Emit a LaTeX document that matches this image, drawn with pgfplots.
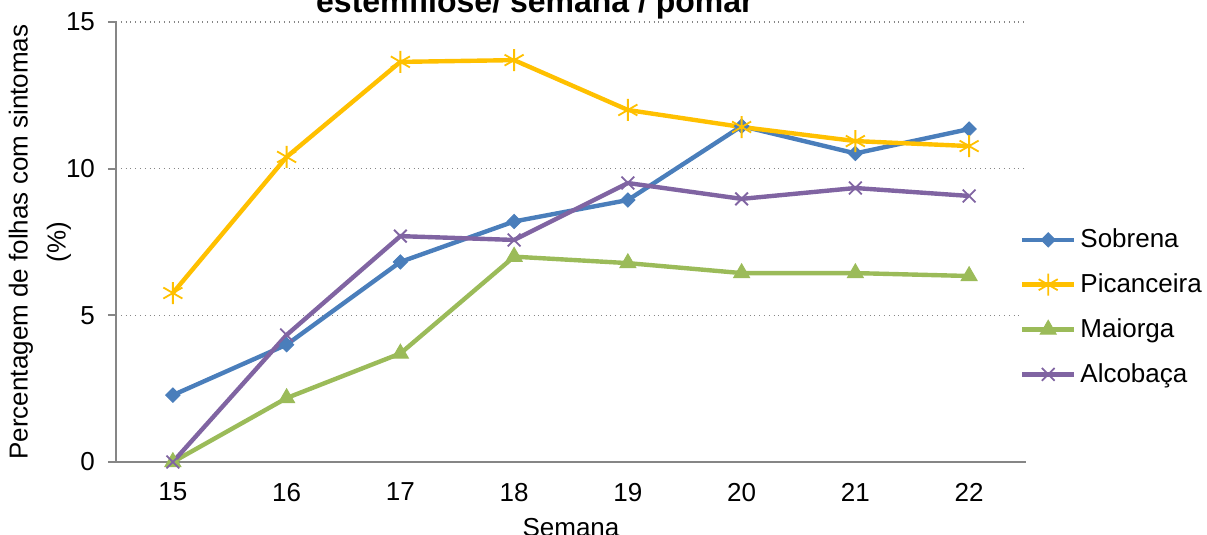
\documentclass[border=0pt]{standalone}
\usepackage{pgfplots}
\pgfplotsset{compat=1.18}
\usepackage{fontspec}
\setmainfont{Liberation Sans}
\definecolor{cSob}{HTML}{4A7EBB}
\definecolor{cPic}{HTML}{FFC000}
\definecolor{cMai}{HTML}{9BBB59}
\definecolor{cAlc}{HTML}{8064A2}
\definecolor{axgray}{HTML}{868686}
\begin{document}
\begin{tikzpicture}
\useasboundingbox (-58pt,-36.5pt) rectangle (545.5pt,231pt);
\begin{axis}[
  scale only axis,
  width=455pt, height=220pt,
  xmin=14.5, xmax=22.5, ymin=0, ymax=15,
  xtick={15,16,17,18,19,20,21,22},
  ytick={0,5,10,15},
  axis x line*=bottom, axis y line*=left,
  axis line style={-, draw=axgray, line width=1pt},
  x tick style={draw=none},
  y tick style={draw=axgray, line width=1pt},
  major tick length=4pt,
  tick align=outside,
  ymajorgrids,
  grid style={dotted, draw=axgray, line width=0.8pt},
  tick label style={font=\fontsize{13}{15}\selectfont},
  /pgf/number format/assume math mode=true,
  xticklabel style={yshift=-3pt},
  yticklabel style={xshift=-3pt},
  ylabel={Percentagem de folhas com sintomas\\(\%)},
  ylabel style={align=center, font=\fontsize{13}{19}\selectfont, at={(axis description cs:-0.0835,0.5)}, anchor=center},
  xlabel={Semana},
  xlabel style={font=\fontsize{13}{15}\selectfont, at={(axis description cs:0.5,-0.15)}, anchor=center},
  legend style={draw=none, at={(axis description cs:0.993,0.352)}, anchor=west,
     font=\fontsize{13}{15}\selectfont, row sep=7.5pt, inner xsep=0pt},
  legend cell align=left,
  legend image code/.code={\draw[mark repeat=2,mark phase=2] plot coordinates {(0pt,0pt) (13pt,0pt) (26pt,0pt)};},
  clip=false,
]
\addplot[cSob, line width=2.2pt, mark=square*, mark size=2.5pt, mark options={solid, rotate=45, fill=cSob, line width=0.5pt}]
coordinates {(15,2.28) (16,4.0) (17,6.82) (18,8.2) (19,8.93) (20,11.45) (21,10.52) (22,11.35)};
\addlegendentry{Sobrena}
\addplot[cPic, line width=2.2pt, mark=asterisk, mark size=5.5pt, mark options={solid, line width=0.9pt}]
coordinates {(15,5.76) (16,10.4) (17,13.64) (18,13.7) (19,12.0) (20,11.42) (21,10.94) (22,10.77)};
\addlegendentry{Picanceira}
\addplot[cMai, line width=2.2pt, mark=triangle*, mark size=4.6pt, mark options={solid, fill=cMai, line width=0.5pt}]
coordinates {(15,0) (16,2.18) (17,3.7) (18,7.0) (19,6.78) (20,6.44) (21,6.44) (22,6.34)};
\addlegendentry{Maiorga}
\addplot[cAlc, line width=2.2pt, mark=x, mark size=4.5pt, mark options={solid, line width=0.9pt}]
coordinates {(15,0) (16,4.33) (17,7.7) (18,7.57) (19,9.51) (20,8.97) (21,9.34) (22,9.07)};
\addlegendentry{Alcobaça}
\node[font=\bfseries\fontsize{16}{19}\selectfont, anchor=base] at (axis description cs:0.4604,1.0227) {estemfilose/ semana / pomar};
\end{axis}
\end{tikzpicture}
\end{document}
